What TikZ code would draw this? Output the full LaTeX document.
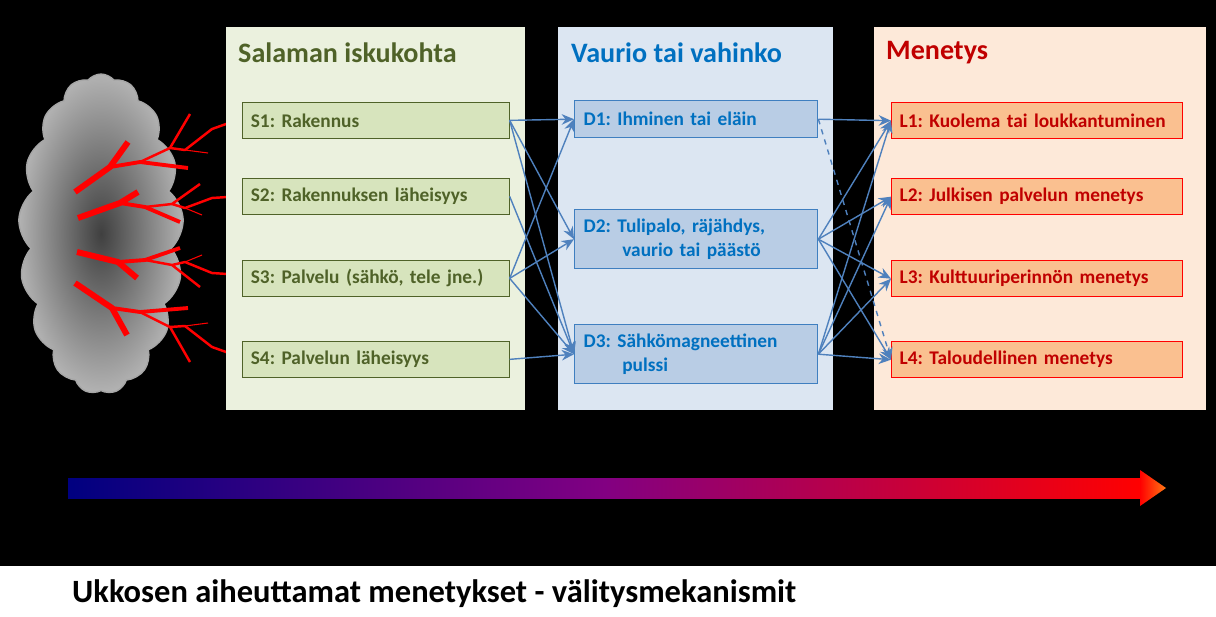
\documentclass[tikz,border=0pt]{standalone}
\usepackage{fontspec}
\setmainfont{Carlito}
\frenchspacing
\usetikzlibrary{arrows.meta,shapes.symbols}
\definecolor{sgreen}{HTML}{4F6228}
\definecolor{spanel}{HTML}{EBF1DE}
\definecolor{sbox}{HTML}{D7E4BD}
\definecolor{dblue}{HTML}{0070C0}
\definecolor{dpanel}{HTML}{DCE6F2}
\definecolor{dbox}{HTML}{B9CDE5}
\definecolor{dline}{HTML}{3F7FC0}
\definecolor{lred}{HTML}{C00000}
\definecolor{lpanel}{HTML}{FDE9D9}
\definecolor{lbox}{HTML}{FAC090}
\definecolor{link}{HTML}{4F81BD}
\tikzset{
  sbox/.style={draw=sgreen, fill=sbox, text=sgreen, font=\bfseries\fontsize{11}{13}\selectfont, anchor=north west, minimum width=5.34cm, minimum height=0.72cm, inner sep=0pt, align=left, text width=5.0cm},
  dbox/.style={draw=dline, thick, fill=dbox, text=dblue, font=\bfseries\fontsize{11}{13.5}\selectfont, anchor=north west, minimum width=4.86cm, inner sep=0pt, align=left, text width=4.5cm},
  lbox/.style={draw=red, thick, fill=lbox, text=lred, font=\bfseries\fontsize{11}{13}\selectfont, anchor=north west, minimum width=5.82cm, minimum height=0.72cm, inner sep=0pt, align=left, text width=5.5cm},
  ptitle/.style={font=\bfseries\fontsize{16}{19}\selectfont, anchor=west},
  link/.style={draw=link, thick, -{Stealth[length=7pt,width=6pt]}},
  bolt/.style={draw=red, line cap=butt, line join=round}
}
\begin{document}
\begin{tikzpicture}[x=0.02cm,y=-0.02cm]
        %TAUSTA
        \fill[white] (0,0) rectangle (1216,616);
        \useasboundingbox (0,0) rectangle (1216,616);
        \fill[black] (0,0) rectangle (1216,566);
        %PILVI
        \node[cloud, cloud puffs=17, cloud puff arc=100, aspect=0.5, draw=gray!70, thick, minimum width=3.3cm, minimum height=6.4cm, inner color=black!75, outer color=black!30] (pilvi) at (101,234) {};
        %SALAMAT
        \draw[bolt, line width=3.4pt] (75,192) -- (110,167) -- (128,142);
        \draw[bolt, line width=2.2pt] (110,167) -- (140,162) -- (188,168);
        \draw[bolt, line width=1.4pt] (140,162) -- (170,148) -- (190,114) (170,148) -- (185,150) -- (212,129) -- (243,118);
        \draw[bolt, line width=0.6pt] (185,150) -- (208,153);
        \draw[bolt, line width=3.4pt] (78,218) -- (120,203) -- (138,192);
        \draw[bolt, line width=2.2pt] (120,203) -- (145,207) -- (180,222);
        \draw[bolt, line width=1.4pt] (145,207) -- (172,204) -- (200,184) (172,204) -- (185,208) -- (212,198) -- (243,196);
        \draw[bolt, line width=0.6pt] (185,208) -- (202,215);
        \draw[bolt, line width=3.4pt] (77,252) -- (118,262) -- (137,278);
        \draw[bolt, line width=2.2pt] (118,262) -- (145,260) -- (180,248);
        \draw[bolt, line width=1.4pt] (145,260) -- (172,265) -- (200,287) (172,265) -- (185,262) -- (212,273) -- (243,275);
        \draw[bolt, line width=0.6pt] (185,262) -- (202,255);
        \draw[bolt, line width=3.4pt] (75,283) -- (112,308) -- (127,335);
        \draw[bolt, line width=2.2pt] (112,308) -- (140,312) -- (188,308);
        \draw[bolt, line width=1.4pt] (140,312) -- (170,327) -- (190,362) (170,327) -- (185,326) -- (212,347) -- (243,358);
        \draw[bolt, line width=0.6pt] (185,326) -- (208,323);
        %PANEELIT
        \fill[spanel] (226,27) rectangle (525,410);
        \fill[dpanel] (558,27) rectangle (833,410);
        \fill[lpanel] (874,27) rectangle (1206,410);
        \node[ptitle, text=sgreen] (stitle) at (232,53) {Salaman iskukohta};
        \node[ptitle, text=dblue] (dtitle) at (565,53) {Vaurio tai vahinko};
        \node[ptitle, text=lred] (ltitle) at (880,53) {Menetys};
        %S-LAATIKOT
        \node[sbox] (s1) at (242,102) {S1: Rakennus};
        \node[sbox] (s2) at (242,178) {S2: Rakennuksen läheisyys};
        \node[sbox] (s3) at (242,260) {S3: Palvelu (sähkö, tele jne.)};
        \node[sbox] (s4) at (242,341) {S4: Palvelun läheisyys};
        %D-LAATIKOT
        \node[dbox, minimum height=0.74cm] (d1) at (574,100) {D1: Ihminen tai eläin};
        \node[dbox, minimum height=1.18cm] (d2) at (574,209) {D2: Tulipalo, räjähdys,\\\hspace*{2em}vaurio tai päästö};
        \node[dbox, minimum height=1.18cm] (d3) at (574,324) {D3: Sähkömagneettinen\\\hspace*{2em}pulssi};
        %L-LAATIKOT
        \node[lbox] (l1) at (891,102) {L1: Kuolema tai loukkantuminen};
        \node[lbox] (l2) at (891,178) {L2: Julkisen palvelun menetys};
        \node[lbox] (l3) at (891,260) {L3: Kulttuuriperinnön menetys};
        \node[lbox] (l4) at (891,341) {L4: Taloudellinen menetys};
        %NUOLET S -> D
        \foreach \t in {d1,d2,d3} \draw[link] (s1.east) -- (\t.west);
        \draw[link] (s2.east) -- (d3.west);
        \foreach \t in {d1,d2,d3} \draw[link] (s3.east) -- (\t.west);
        \draw[link] (s4.east) -- (d3.west);
        %NUOLET D -> L
        \draw[link] (d1.east) -- (l1.west);
        \draw[link, dashed] (d1.east) -- (l4.west);
        \foreach \t in {l1,l2,l3,l4} \draw[link] (d2.east) -- (\t.west);
        \foreach \t in {l1,l2,l3,l4} \draw[link] (d3.east) -- (\t.west);
        %VÄRINUOLI
        \shade[left color={rgb,255:red,0;green,0;blue,128}, right color=red, middle color={rgb,255:red,130;green,0;blue,130}] (68,478) rectangle (1141,498);
        \shade[left color=red, right color={rgb,255:red,255;green,120;blue,20}] (1140,470) -- (1166,488) -- (1140,506) -- cycle;
        %OTSIKKO
        \node[anchor=west, font=\bfseries\fontsize{18.5}{21}\selectfont] (otsikko) at (66,594) {Ukkosen aiheuttamat menetykset - välitysmekanismit};
\end{tikzpicture}
\end{document}
